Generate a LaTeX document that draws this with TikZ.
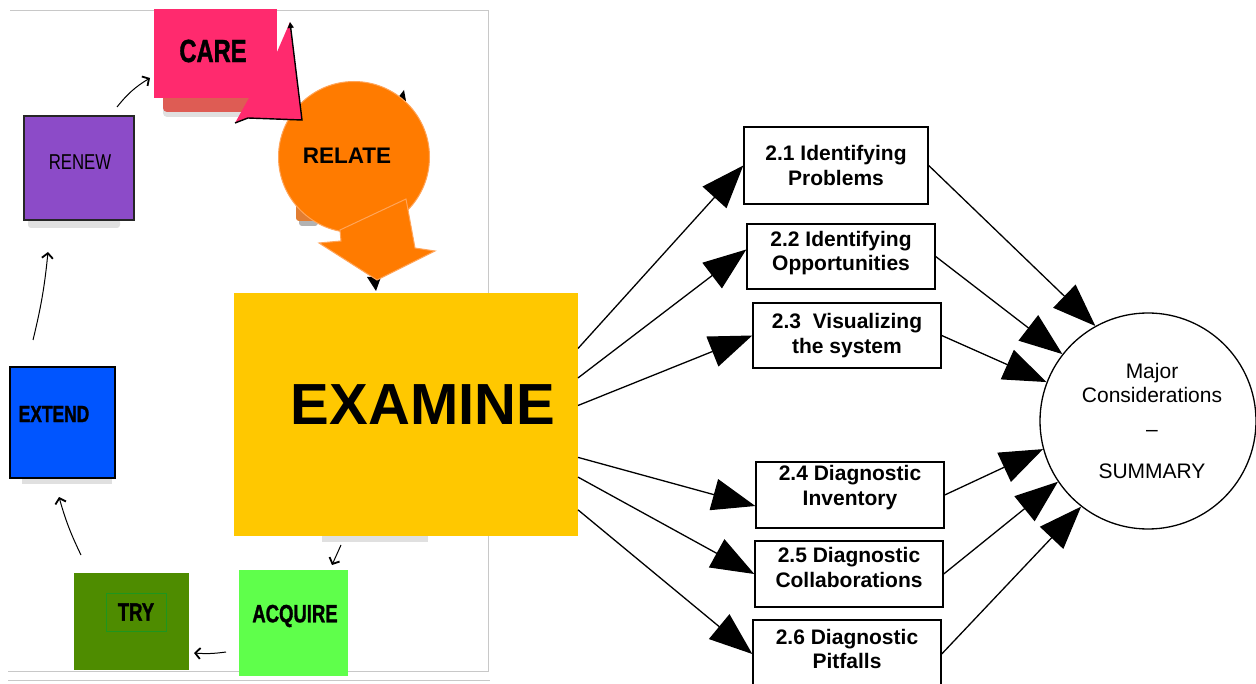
\documentclass[tikz,border=0pt]{standalone}
\usepackage{fontspec}
\setmainfont{Liberation Sans}
\newfontfamily\condsans[FakeStretch=0.78]{Liberation Sans}
\newfontfamily\condheavy[FakeStretch=0.74,FakeBold=1.3]{Liberation Sans}
\usetikzlibrary{arrows.meta}
\definecolor{carepink}{RGB}{255,42,110}
\definecolor{careshadow}{RGB}{222,92,84}
\definecolor{relateorange}{RGB}{255,123,0}
\definecolor{relateedge}{RGB}{255,165,90}
\definecolor{relateback}{RGB}{225,125,50}
\definecolor{renewpurple}{RGB}{140,75,200}
\definecolor{extendblue}{RGB}{0,85,255}
\definecolor{trygreen}{RGB}{78,140,0}
\definecolor{tryline}{RGB}{30,150,30}
\definecolor{acquiregreen}{RGB}{95,255,75}
\definecolor{examineyellow}{RGB}{255,200,0}
\definecolor{framegray}{RGB}{200,200,200}
\begin{document}
\begin{tikzpicture}[x=1pt,y=-1pt,
  colbox/.style={inner sep=0pt, outer sep=0pt},
  topic/.style={draw=black, line width=1.4pt, align=center, inner sep=0pt,
    font=\bfseries\fontsize{21}{24.5}\selectfont},
  bigarrow/.style={line width=1.3pt, -{Triangle[length=43pt,width=32pt]}},
  hand/.style={line width=1pt, -{Straight Barb[length=5pt,width=11pt,line width=1.8pt]}},
  softshadow/.style={fill=black, opacity=0.12}
]
\useasboundingbox (0,0) rectangle (1256,684);
\fill[white] (0,0) rectangle (1256,684);

% frame of the left picture
\draw[framegray, line width=1pt] (10,11) -- (488,11) -- (488,671) -- (8,671);
\draw[framegray, line width=1pt] (8,680) -- (490,680);

% CARE
\fill[softshadow, rounded corners=4pt] (163,104) rectangle (254,117);
\fill[careshadow, rounded corners=4pt] (163,90) rectangle (252,112);
\node[colbox, fill=carepink, minimum width=123pt, minimum height=89pt,
  label={[font=\condheavy\bfseries\fontsize{32}{32}\selectfont, xshift=-2.5pt, yshift=3pt]center:CARE}] (care) at (215.5,54) {};

% RELATE
\fill[black, opacity=0.3, rounded corners=3pt] (299,209) rectangle (318,226);
\fill[relateback, rounded corners=3pt] (296,204) rectangle (318,221);
\fill (397,99) -- (404,90) -- (406,101) -- cycle;
\node[circle, fill=relateorange, draw=relateedge, line width=1pt, minimum size=151pt, inner sep=0pt,
  label={[font=\bfseries\fontsize{22.5}{22.5}\selectfont, xshift=-7pt, yshift=1pt]center:RELATE}] (relate) at (354,157) {};
\fill (367,277) -- (381,277) -- (376,291) -- cycle;
\filldraw[fill=relateorange, draw=relateedge, line width=1pt]
  (340,230) -- (406,199) -- (415,248) -- (435,251) -- (377,280) -- (319,243) -- (341,241) -- cycle;

% CARE callout tail (over the circle)
\fill[carepink] (277,52) -- (290,22) -- (302,120) -- (248,118) -- (235,123) -- (249,98) -- (277,98) -- cycle;
\draw[line width=1.4pt, -{Triangle[length=6pt,width=6pt]}] (235,123) -- (248,118) -- (302,120) -- (290,22);

% RENEW
\fill[softshadow, rounded corners=3pt] (28,219) rectangle (120,228);
\node[colbox, fill=renewpurple, draw=black!85, line width=1.3pt, minimum width=110pt, minimum height=104pt,
  label={[font=\condsans\fontsize{21.5}{21.5}\selectfont, xshift=1pt, yshift=6pt]center:RENEW}] (renew) at (79,168) {};

% EXTEND
\fill[softshadow] (22,477) rectangle (112,484);
\node[colbox, fill=extendblue, draw=black, line width=1.5pt, minimum width=105pt, minimum height=111pt,
  label={[font=\condheavy\bfseries\fontsize{23.5}{23.5}\selectfont, xshift=-8.5pt, yshift=8.5pt]center:EXTEND}] (extend) at (62.5,422.5) {};

% TRY
\node[colbox, fill=trygreen, minimum width=115pt, minimum height=97pt,
  label={[draw=tryline, line width=1pt, minimum width=60pt, minimum height=38pt, inner sep=0pt,
    font=\condheavy\bfseries\fontsize{25}{25}\selectfont, xshift=4.5pt, yshift=9.5pt]center:TRY}] (try) at (131.5,621.5) {};

% ACQUIRE
\node[colbox, fill=acquiregreen, minimum width=109pt, minimum height=106pt,
  label={[font=\condheavy\bfseries\fontsize{25}{25}\selectfont, xshift=1.5pt, yshift=7pt]center:ACQUIRE}] (acquire) at (293.5,623) {};

% EXAMINE
\fill[softshadow] (322,535) rectangle (428,542);
\node[colbox, fill=examineyellow, minimum width=344pt, minimum height=243pt,
  label={[font=\bfseries\fontsize{58}{58}\selectfont, xshift=17pt, yshift=9.5pt]center:EXAMINE}] (examine) at (406,414.5) {};

% cycle arrows
\draw[hand] ([xshift=-17pt,yshift=9pt]renew.north east) to[bend left=10] ([xshift=-4pt,yshift=-68.5pt]care.north west);
\draw[hand] ([xshift=23pt,yshift=27pt]extend.north west) to[bend right=4] ([xshift=24pt,yshift=-32pt]renew.south west);
\draw[hand] ([xshift=7pt,yshift=18pt]try.north west) to[bend left=5] ([xshift=49pt,yshift=-19pt]extend.south west);
\draw[hand] ([xshift=-13pt,yshift=24pt]acquire.south west) to[bend left=6] ([xshift=5pt,yshift=17pt]try.south east);
\draw[hand] ([xshift=107pt,yshift=-9pt]examine.south west) -- ([xshift=93pt,yshift=5pt]acquire.north west);

% topic boxes
\node[topic, minimum width=184pt, minimum height=77pt] (b1) at (836,165.5) {2.1 Identifying\\Problems};
\node[topic, minimum width=188pt, minimum height=65pt, text depth=11.4pt] (b2) at (841,256.5) {2.2 Identifying\\Opportunities};
\node[topic, minimum width=188pt, minimum height=65pt] (b3) at (847,335.5) {2.3~~Visualizing\\the system};
\node[topic, minimum width=188pt, minimum height=66pt, text depth=19.5pt] (b4) at (850,495) {2.4 Diagnostic\\Inventory};
\node[topic, minimum width=188pt, minimum height=66pt, text depth=13pt] (b5) at (849,574) {2.5 Diagnostic\\Collaborations};
\node[topic, minimum width=188pt, minimum height=68pt, text depth=10pt] (b6) at (847,654) {2.6 Diagnostic\\Pitfalls};

% summary circle
\node[circle, draw=black, line width=1.3pt, minimum size=216pt, inner sep=0pt, align=center,
  font=\fontsize{21}{24}\selectfont] (sum) at (1148,421) {\hspace*{8pt}Major\\\hspace*{8pt}Considerations\\[10pt]\hspace*{8pt}--\\[18pt]\hspace*{8pt}SUMMARY};

% arrows from EXAMINE
\draw[bigarrow] (examine.21.4) -- (b1.west);
\draw[bigarrow] (examine.12.3) -- ([yshift=7pt]b2.west);
\draw[bigarrow] (examine.3.8) -- (b3.west);
\draw[bigarrow] (examine.346.8) -- ([yshift=-11pt]b4.west);
\draw[bigarrow] (examine.340) -- (b5.west);
\draw[bigarrow] (examine.331.5) -- (b6.west);

% arrows to summary
\draw[bigarrow] (b1.east) -- (sum.119.4);
\draw[bigarrow] (b2.east) -- (sum.142.5);
\draw[bigarrow] (b3.east) -- (sum.159.8);
\draw[bigarrow] (b4.east) -- (sum.195.5);
\draw[bigarrow] (b5.east) -- (sum.214);
\draw[bigarrow] (b6.east) -- (sum.232.4);
\end{tikzpicture}
\end{document}
